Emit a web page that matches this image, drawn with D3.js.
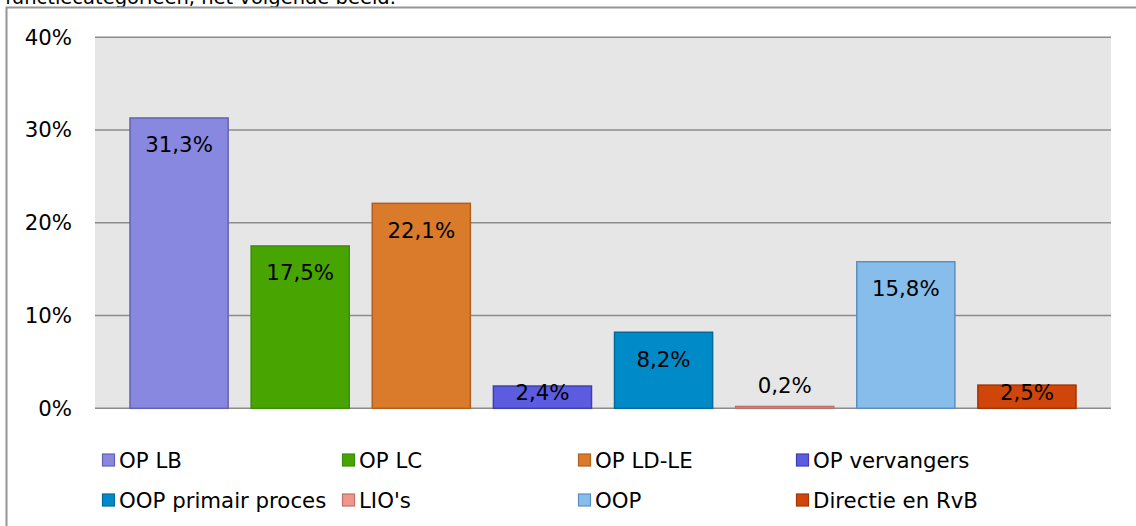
<!DOCTYPE html>
<html>
<head>
<meta charset="utf-8">
<script src="https://cdn.jsdelivr.net/npm/d3@7"></script>
<style>
  body { margin: 0; background: #fff; }
  text { font-family: "DejaVu Sans", Verdana, sans-serif; fill: #000; }
</style>
</head>
<body>
<div id="chart"></div>
<script>
// data
var categories = ["OP LB", "OP LC", "OP LD-LE", "OP vervangers", "OOP primair proces", "LIO's", "OOP", "Directie en RvB"];
var values = [0.313, 0.175, 0.221, 0.024, 0.082, 0.002, 0.158, 0.025];
var fills = ["#8888e0", "#48a400", "#d97b2a", "#5c5ce0", "#008ac8", "#ef978c", "#86bdeb", "#d0460a"];
var strokes = ["#6262b0", "#3d8c10", "#b0601e", "#3e3eb0", "#006b9c", "#c0726a", "#5c8fc0", "#a23406"];
var yTicks = [0, 0.1, 0.2, 0.3, 0.4];

var data = categories.map(function (c, i) {
  return { name: c, value: values[i], fill: fills[i], stroke: strokes[i] };
});

var width = 1136, height = 526;
var fontSize = "21.3px";
var fmt = function (v) { return d3.format(".1f")(v * 100).replace(".", ",") + "%"; };

var svg = d3.select("#chart")
  .append("svg")
  .attr("width", width)
  .attr("height", height);

// cut-off line of text from the page above the chart
svg.append("text")
  .attr("x", 5)
  .attr("y", 4)
  .style("font-size", "19.5px")
  .text("functiecategorieen, het volgende beeld.");

// chart frame
svg.append("rect")
  .attr("x", 6.5)
  .attr("y", 7.5)
  .attr("width", 1200)
  .attr("height", 600)
  .attr("fill", "none")
  .attr("stroke", "#969696")
  .attr("stroke-width", 2);

var plotLeft = 95, plotRight = 1111;

var xScale = d3.scaleBand()
  .domain(categories)
  .range([118.5, 1087.5])
  .paddingInner(0.19)
  .paddingOuter(0.095);

var yScale = d3.scaleLinear()
  .domain([0, 0.4])
  .range([408.3, 37.3]);

// plot background
svg.append("rect")
  .attr("x", plotLeft)
  .attr("y", yScale(0.4))
  .attr("width", plotRight - plotLeft)
  .attr("height", yScale(0) - yScale(0.4))
  .attr("fill", "#e6e6e6");

// grid
svg.append("g")
  .selectAll("line")
  .data(yTicks)
  .enter()
  .append("line")
  .attr("x1", plotLeft)
  .attr("x2", plotRight)
  .attr("y1", function (d) { return yScale(d); })
  .attr("y2", function (d) { return yScale(d); })
  .attr("stroke", "#8c8c8c")
  .attr("stroke-width", 1.5);

// y axis labels
var yAxis = svg.append("g")
  .attr("transform", "translate(72,0)")
  .call(d3.axisLeft(yScale)
    .tickValues(yTicks)
    .tickSize(0)
    .tickPadding(0)
    .tickFormat(d3.format(".0%")));
yAxis.select(".domain").remove();
yAxis.selectAll("text")
  .style("font-size", fontSize)
  .style("font-family", "'DejaVu Sans', Verdana, sans-serif")
  .attr("fill", "#000");

// bars
svg.selectAll(".bar")
  .data(data)
  .enter()
  .append("rect")
  .attr("class", "bar")
  .attr("x", function (d) { return xScale(d.name); })
  .attr("width", xScale.bandwidth())
  .attr("y", function (d) { return yScale(d.value); })
  .attr("height", function (d) { return yScale(0) - yScale(d.value); })
  .attr("fill", function (d) { return d.fill; })
  .attr("stroke", function (d) { return d.stroke; })
  .attr("stroke-width", 1.5);

// value labels (inside end, pushed out when the bar is too thin)
svg.selectAll(".lbl")
  .data(data)
  .enter()
  .append("text")
  .attr("class", "lbl")
  .attr("x", function (d) { return xScale(d.name) + xScale.bandwidth() / 2; })
  .attr("y", function (d) {
    var top = yScale(d.value);
    var h = yScale(0) - top;
    if (h < 10) return top - 21;
    return Math.min(top + 27, yScale(0) - 16);
  })
  .attr("text-anchor", "middle")
  .attr("dominant-baseline", "central")
  .style("font-size", fontSize)
  .text(function (d) { return fmt(d.value); });

// legend: 4 columns, 2 rows
var legendCols = [102, 342, 578, 796];
var legendRows = [460, 500];

var legend = svg.selectAll(".legend")
  .data(data)
  .enter()
  .append("g")
  .attr("class", "legend")
  .attr("transform", function (d, i) {
    return "translate(" + legendCols[i % 4] + "," + legendRows[Math.floor(i / 4)] + ")";
  });

legend.append("rect")
  .attr("x", 0.5)
  .attr("y", -6)
  .attr("width", 12)
  .attr("height", 12)
  .attr("fill", function (d) { return d.fill; })
  .attr("stroke", function (d) { return d.stroke; })
  .attr("stroke-width", 1.2);

legend.append("text")
  .attr("x", 17)
  .attr("y", 0)
  .attr("dominant-baseline", "central")
  .style("font-size", fontSize)
  .text(function (d) { return d.name; });
</script>
</body>
</html>
